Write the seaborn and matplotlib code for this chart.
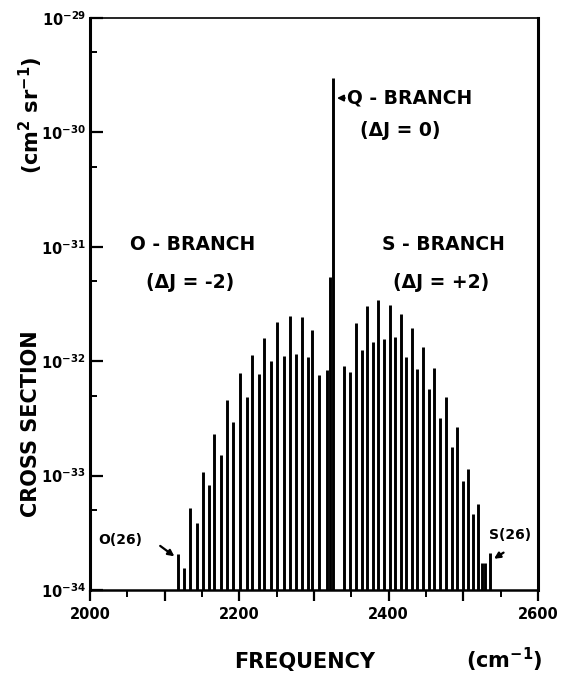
import matplotlib
matplotlib.use("Agg")
import matplotlib.pyplot as plt
import matplotlib.ticker as mticker
import numpy as np
import seaborn as sns

# ---- data (frequency in cm^-1, cross section in cm^2 sr^-1)
o_freq = [2118, 2126, 2134, 2143, 2151, 2159, 2166, 2175, 2183, 2192, 2201, 2210,
          2217, 2226, 2233, 2242, 2250, 2260, 2268, 2276, 2284, 2292, 2297, 2307, 2317]
o_sigma = [2.07e-34, 1.56e-34, 5.2e-34, 3.85e-34, 1.07e-33, 8.3e-34, 2.31e-33, 1.51e-33,
           4.58e-33, 2.94e-33, 7.9e-33, 4.86e-33, 1.13e-32, 7.7e-33, 1.60e-32, 1.00e-32,
           2.20e-32, 1.11e-32, 2.48e-32, 1.16e-32, 2.43e-32, 1.09e-32, 1.87e-32, 7.6e-33,
           8.4e-33]
q_freq = [2321, 2325]
q_sigma = [5.4e-32, 2.99e-30]
s_freq = [2340, 2348, 2356, 2364, 2371, 2379, 2386, 2394, 2402, 2408, 2417, 2423, 2431,
          2438, 2446, 2454, 2461, 2469, 2477, 2485, 2491, 2500, 2506, 2513, 2520, 2525,
          2529, 2536]
s_sigma = [9.1e-33, 8.0e-33, 2.16e-32, 1.25e-32, 3.04e-32, 1.47e-32, 3.43e-32, 1.56e-32,
           3.10e-32, 1.63e-32, 2.59e-32, 1.09e-32, 1.95e-32, 8.5e-33, 1.33e-32, 5.7e-33,
           8.7e-33, 3.19e-33, 4.86e-33, 1.78e-33, 2.66e-33, 8.97e-34, 1.14e-33, 4.6e-34,
           5.6e-34, 1.72e-34, 1.72e-34, 2.1e-34]

x_major_labels = ["2000", "2200", "2400", "2600"]
y_tick_exps = [-34, -33, -32, -31, -30, -29]

sns.set_style("ticks")
plt.rcParams["font.family"] = ["DejaVu Sans"]
plt.rcParams["mathtext.default"] = "bf"
for key in ["text.color", "axes.labelcolor", "xtick.color", "ytick.color", "axes.edgecolor"]:
    plt.rcParams[key] = "black"

fig = plt.figure(figsize=(5.62, 6.77), dpi=100)
W, H = 562, 677
L, R, T, B = 90, 538, 18, 590
ax = fig.add_axes([L / W, 1 - B / H, (R - L) / W, (B - T) / H])

base = 1e-34
lw = 2.1
ax.vlines(o_freq, base, o_sigma, colors="black", linewidth=lw)
ax.vlines(q_freq, base, q_sigma, colors="black", linewidth=lw)
ax.vlines(s_freq, base, s_sigma, colors="black", linewidth=lw)

ax.set_yscale("log")
ax.set_xlim(2000, 2600)
ax.set_ylim(1e-34, 1e-29)

# x ticks
ax.xaxis.set_major_locator(mticker.MultipleLocator(100))
ax.xaxis.set_minor_locator(mticker.MultipleLocator(50))
ax.xaxis.set_major_formatter(mticker.FuncFormatter(
    lambda v, p: str(int(v)) if str(int(round(v))) in x_major_labels else ""))
ax.tick_params(axis="x", which="major", direction="out", length=8, width=1.6,
               labelsize=10.5, pad=4, colors="black")
ax.tick_params(axis="x", which="minor", direction="out", length=5, width=1.4, colors="black")
for lab in ax.get_xticklabels():
    lab.set_fontweight("bold")

# y ticks
ax.yaxis.set_major_locator(mticker.FixedLocator([10.0 ** e for e in y_tick_exps]))
ax.yaxis.set_major_formatter(mticker.FixedFormatter(
    [r"$\mathbf{10^{%d}}$" % e for e in y_tick_exps]))
ax.yaxis.set_minor_locator(mticker.FixedLocator([5 * 10.0 ** e for e in y_tick_exps[:-1]]))
ax.yaxis.set_minor_formatter(mticker.NullFormatter())
ax.tick_params(axis="y", which="major", direction="in", length=9, width=1.6,
               labelsize=10.5, pad=3, colors="black")
ax.tick_params(axis="y", which="minor", direction="in", length=5, width=1.4, colors="black")

for side, w in [("left", 2.2), ("bottom", 1.8), ("right", 2.2), ("top", 1.2)]:
    ax.spines[side].set_visible(True)
    ax.spines[side].set_linewidth(w)
    ax.spines[side].set_color("black")

tk = dict(fontsize=13.5, fontweight="bold", ha="center", va="center", color="black")

# branch labels
ax.text(2428, 10 ** -29.70, "Q - BRANCH", **tk)
ax.text(2415, 10 ** -29.98, "(ΔJ = 0)", **tk)
ax.annotate("", xy=(2327, 10 ** -29.70), xytext=(2345, 10 ** -29.70),
            arrowprops=dict(arrowstyle="-|>", color="black", lw=1.4, mutation_scale=9))
ax.text(2137, 10 ** -30.98, "O - BRANCH", **tk)
ax.text(2134, 10 ** -31.31, "(ΔJ = -2)", **tk)
ax.text(2474, 10 ** -30.98, "S - BRANCH", **tk)
ax.text(2470, 10 ** -31.31, "(ΔJ = +2)", **tk)

sk = dict(fontsize=10, fontweight="bold", ha="center", va="center", color="black")
ax.text(2041, 10 ** -33.56, "O(26)", **sk)
ax.annotate("", xy=(2116, 10 ** -33.72), xytext=(2091, 10 ** -33.60),
            arrowprops=dict(arrowstyle="-|>", color="black", lw=1.6, mutation_scale=9))
ax.text(2562, 10 ** -33.52, "S(26)", **sk)
ax.annotate("", xy=(2538, 10 ** -33.74), xytext=(2557, 10 ** -33.66),
            arrowprops=dict(arrowstyle="-|>", color="black", lw=1.6, mutation_scale=9))

# axis labels
fig.text(31 / W, 1 - 424 / H, "CROSS SECTION", rotation=90, fontsize=15,
         fontweight="bold", ha="center", va="center")
fig.text(31 / W, 1 - 115 / H, r"(cm$^{2}$ sr$^{-1}$)", rotation=90, fontsize=15,
         fontweight="bold", ha="center", va="center")
fig.text(305 / W, 1 - 662 / H, "FREQUENCY", fontsize=15, fontweight="bold",
         ha="center", va="center")
fig.text(504 / W, 1 - 660 / H, r"(cm$^{-1}$)", fontsize=15, fontweight="bold",
         ha="center", va="center")

fig.savefig("out.png", dpi=100)
